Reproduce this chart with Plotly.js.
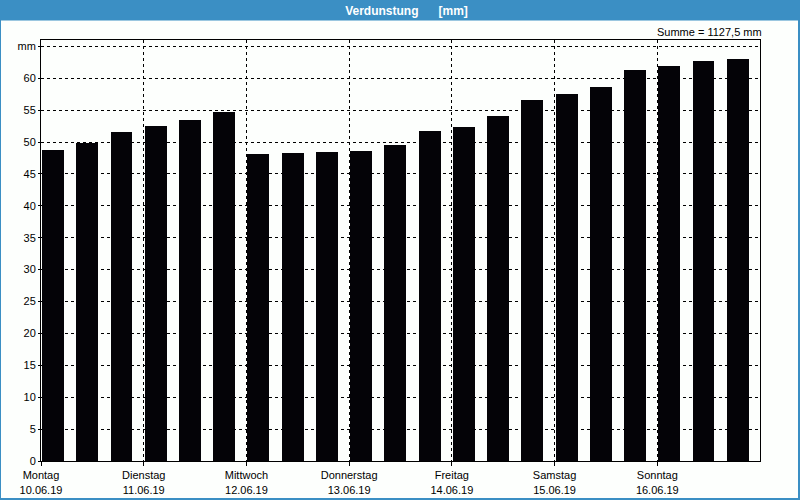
<!DOCTYPE html>
<html>
<head>
<meta charset="utf-8">
<script src="https://cdn.plot.ly/plotly-3.0.1.min.js"></script>
<style>
html,body{margin:0;padding:0;background:#fdfffd;}
#chart{width:800px;height:500px;}
</style>
</head>
<body>
<div id="chart"></div>
<script>
// Data
const days = ["Montag","Dienstag","Mittwoch","Donnerstag","Freitag","Samstag","Sonntag"];
const dates = ["10.06.19","11.06.19","12.06.19","13.06.19","14.06.19","15.06.19","16.06.19"];
const periodsPerDay = 3;
const values = [48.8, 49.9, 51.6, 52.5, 53.4, 54.7,
                48.1, 48.3, 48.4, 48.6, 49.6, 51.7,
                52.4, 54.1, 56.6, 57.5, 58.6, 61.3,
                61.9, 62.7, 63.0];
const yTickVals = [0,5,10,15,20,25,30,35,40,45,50,55,60,65];
const yTickText = ["0","5","10","15","20","25","30","35","40","45","50","55","60","mm"];
const sumText = "Summe = 1127,5 mm";
const titleText = "Verdunstung&nbsp;&nbsp;&nbsp;&nbsp;&nbsp;&nbsp;[mm]";

const barFrac = 0.64;
const barOffset = 0.03;
const xs = values.map((v,i) => i + barOffset + barFrac/2);
const xTickVals = days.map((d,i) => i*periodsPerDay);
const xTickText = days.map((d,i) => d + "<br>" + dates[i]);
const nSlots = days.length*periodsPerDay;

const plotH = 421; // approx plot height in px
const trace = {
  type: "bar",
  x: xs,
  y: values,
  width: barFrac,
  marker: {color: "#040307", line: {width: 0}},
  hoverinfo: "skip"
};

const layout = {
  width: 800, height: 500,
  margin: {l: 41, r: 40, t: 40, b: 39, pad: 0},
  paper_bgcolor: "#fdfffd",
  plot_bgcolor: "#fdfffd",
  showlegend: false,
  bargap: 0,
  font: {family: "Liberation Sans, Arial, sans-serif", size: 11, color: "#000"},
  title: {
    text: "<b>" + titleText + "</b>",
    font: {family: "Liberation Sans, Arial, sans-serif", size: 12, color: "#ffffff"},
    x: 0.5 + 6/719, xref: "paper", xanchor: "center",
    y: 1 - 10.5/500, yref: "container", yanchor: "middle"
  },
  xaxis: {
    range: [0, nSlots],
    tickmode: "array",
    tickvals: xTickVals,
    ticktext: xTickText,
    showgrid: true,
    gridcolor: "#000",
    gridwidth: 1,
    griddash: "3px,3px",
    zeroline: false,
    showline: true,
    linecolor: "#000",
    linewidth: 1,
    mirror: true,
    ticks: "outside",
    ticklen: 4,
    tickcolor: "#000",
    tickfont: {size: 11, family: "Liberation Sans, Arial, sans-serif"},
    fixedrange: true
  },
  yaxis: {
    range: [0, 66],
    tickmode: "array",
    tickvals: yTickVals,
    ticktext: yTickText,
    showgrid: true,
    gridcolor: "#000",
    gridwidth: 1,
    griddash: "3px,3px",
    zeroline: false,
    showline: true,
    linecolor: "#000",
    linewidth: 1,
    mirror: true,
    ticks: "outside",
    ticklen: 2,
    tickcolor: "#000",
    tickfont: {size: 11, family: "Liberation Sans, Arial, sans-serif"},
    fixedrange: true
  },
  shapes: [
    // title bar
    {type: "rect", xref: "paper", yref: "paper", layer: "below",
     x0: -41/719, x1: 759/719, y0: 1 + 19.5/plotH, y1: 1 + 41/plotH,
     fillcolor: "#3b8fc4", line: {width: 0}},
    // outer border left
    {type: "rect", xref: "paper", yref: "paper", layer: "below",
     x0: -41/719, x1: -40/719, y0: -39/plotH, y1: 1 + 41/plotH,
     fillcolor: "#3b8fc4", line: {width: 0}},
    // outer border right
    {type: "rect", xref: "paper", yref: "paper", layer: "below",
     x0: 757/719, x1: 759/719, y0: -39/plotH, y1: 1 + 41/plotH,
     fillcolor: "#3b8fc4", line: {width: 0}},
    // outer border bottom
    {type: "rect", xref: "paper", yref: "paper", layer: "below",
     x0: -41/719, x1: 759/719, y0: -39/plotH, y1: -37/plotH,
     fillcolor: "#3b8fc4", line: {width: 0}}
  ],
  annotations: [
    {text: sumText, xref: "paper", yref: "paper", x: 1 + 4/719, y: 1 + 8/plotH,
     xanchor: "right", yanchor: "middle", showarrow: false,
     font: {size: 11, family: "Liberation Sans, Arial, sans-serif", color: "#000"}}
  ]
};

Plotly.newPlot("chart", [trace], layout, {displayModeBar: false, staticPlot: true});
</script>
</body>
</html>
